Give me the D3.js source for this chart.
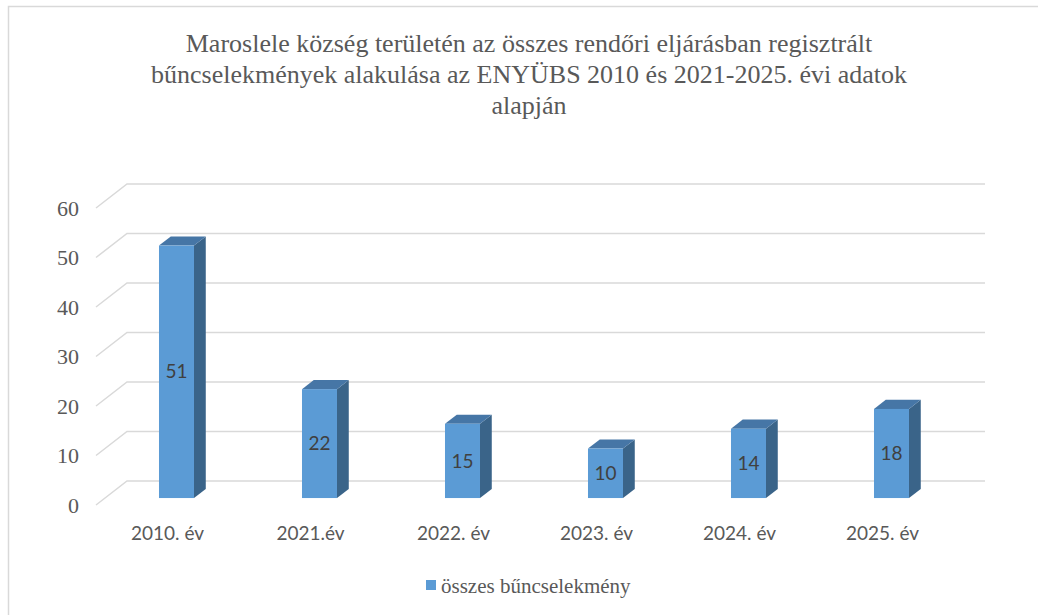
<!DOCTYPE html>
<html>
<head>
<meta charset="utf-8">
<script src="https://cdn.jsdelivr.net/npm/d3@7"></script>
<style>
  body { margin: 0; background: #fff; }
  svg { display: block; }
</style>
</head>
<body>
<div class="chart"></div>
<script>
/* chart data */
const categories = ["2010. év", "2021.év", "2022. év", "2023. év", "2024. év", "2025. év"];
const values = [51, 22, 15, 10, 14, 18];
const yTicks = [0, 10, 20, 30, 40, 50, 60];
const titleLines = [
    "Maroslele község területén az összes rendőri eljárásban regisztrált",
    "bűncselekmények alakulása az ENYÜBS 2010 és 2021-2025. évi adatok",
    "alapján"
];
const seriesName = "összes bűncselekmény";

const width = 1038, height = 615;
const depthX = 31, depthY = -24;   // offset of the back wall
const barFront = 0.29, barBack = 0.67; // bar depth as a share of the floor
const barWidth = 35;
const serif = "'Liberation Serif', 'Times New Roman', serif";
const sans = "Lato, 'Open Sans', sans-serif";

const svg = d3.select(".chart").append("svg")
    .attr("width", width)
    .attr("height", height);

// chart frame
svg.append("rect")
    .attr("x", 8.5).attr("y", 6.5)
    .attr("width", width).attr("height", height)
    .attr("fill", "none")
    .attr("stroke", "#d9d9d9")
    .attr("stroke-width", 1.5);

// title
svg.append("g").selectAll("text")
    .data(titleLines)
    .enter().append("text")
    .attr("x", 529)
    .attr("y", (d, i) => 52 + i * 31)
    .attr("text-anchor", "middle")
    .attr("font-family", serif)
    .attr("font-size", "26px")
    .attr("fill", "#595959")
    .text(d => d);

const x = d3.scaleBand().domain(categories).range([96, 954]);
const y = d3.scaleLinear().domain([0, 60]).range([505, 208]);

// gridlines: short diagonal on the floor side, then the back wall line
const grid = svg.append("g")
    .attr("fill", "none")
    .attr("stroke", "#d9d9d9")
    .attr("stroke-width", 1.5);
yTicks.forEach(t => {
    const y0 = y(t);
    grid.append("path")
        .attr("d", `M${x.range()[0]},${y0} L${x.range()[0] + depthX},${y0 + depthY} L${x.range()[1] + depthX},${y0 + depthY}`);
});

// y tick labels
svg.append("g").selectAll("text")
    .data(yTicks)
    .enter().append("text")
    .attr("x", 79)
    .attr("y", d => y(d))
    .attr("dy", "0.35em")
    .attr("text-anchor", "end")
    .attr("font-family", serif)
    .attr("font-size", "22px")
    .attr("fill", "#595959")
    .text(d => d);

// bars
const sideDx = depthX * (barBack - barFront);
const sideDy = depthY * (barBack - barFront);
const bars = svg.append("g").selectAll("g")
    .data(categories.map((c, i) => ({ c, v: values[i] })))
    .enter().append("g");

bars.each(function(d) {
    const g = d3.select(this);
    const cx = x(d.c) + x.bandwidth() / 2 + depthX * barFront;
    const x0 = cx - barWidth / 2, x1 = cx + barWidth / 2;
    const yb = y(0) + depthY * barFront;
    const yt = y(d.v) + depthY * barFront;

    g.append("polygon")  // side
        .attr("points", [[x1, yt], [x1 + sideDx, yt + sideDy], [x1 + sideDx, yb + sideDy], [x1, yb]].join(" "))
        .attr("fill", "#3a6489");
    g.append("polygon")  // top
        .attr("points", [[x0, yt], [x1, yt], [x1 + sideDx, yt + sideDy], [x0 + sideDx, yt + sideDy]].join(" "))
        .attr("fill", "#4676a6");
    g.append("rect")     // front
        .attr("x", x0).attr("y", yt)
        .attr("width", barWidth).attr("height", yb - yt)
        .attr("fill", "#5b9bd5");
    g.append("text")
        .attr("x", cx)
        .attr("y", (yt + yb) / 2)
        .attr("dy", "0.35em")
        .attr("text-anchor", "middle")
        .attr("font-family", sans)
        .attr("font-size", "19px")
        .attr("fill", "#404040")
        .text(d.v);
});

// category labels
svg.append("g").selectAll("text")
    .data(categories)
    .enter().append("text")
    .attr("x", d => x(d) + x.bandwidth() / 2)
    .attr("y", 540)
    .attr("text-anchor", "middle")
    .attr("font-family", sans)
    .attr("font-size", "19px")
    .attr("fill", "#595959")
    .text(d => d);

// legend
const legend = svg.append("g");
legend.append("rect")
    .attr("x", 426).attr("y", 580)
    .attr("width", 10).attr("height", 10)
    .attr("fill", "#5b9bd5");
legend.append("text")
    .attr("x", 441).attr("y", 593)
    .attr("font-family", serif)
    .attr("font-size", "21px")
    .attr("fill", "#595959")
    .text(seriesName);
</script>
</body>
</html>
